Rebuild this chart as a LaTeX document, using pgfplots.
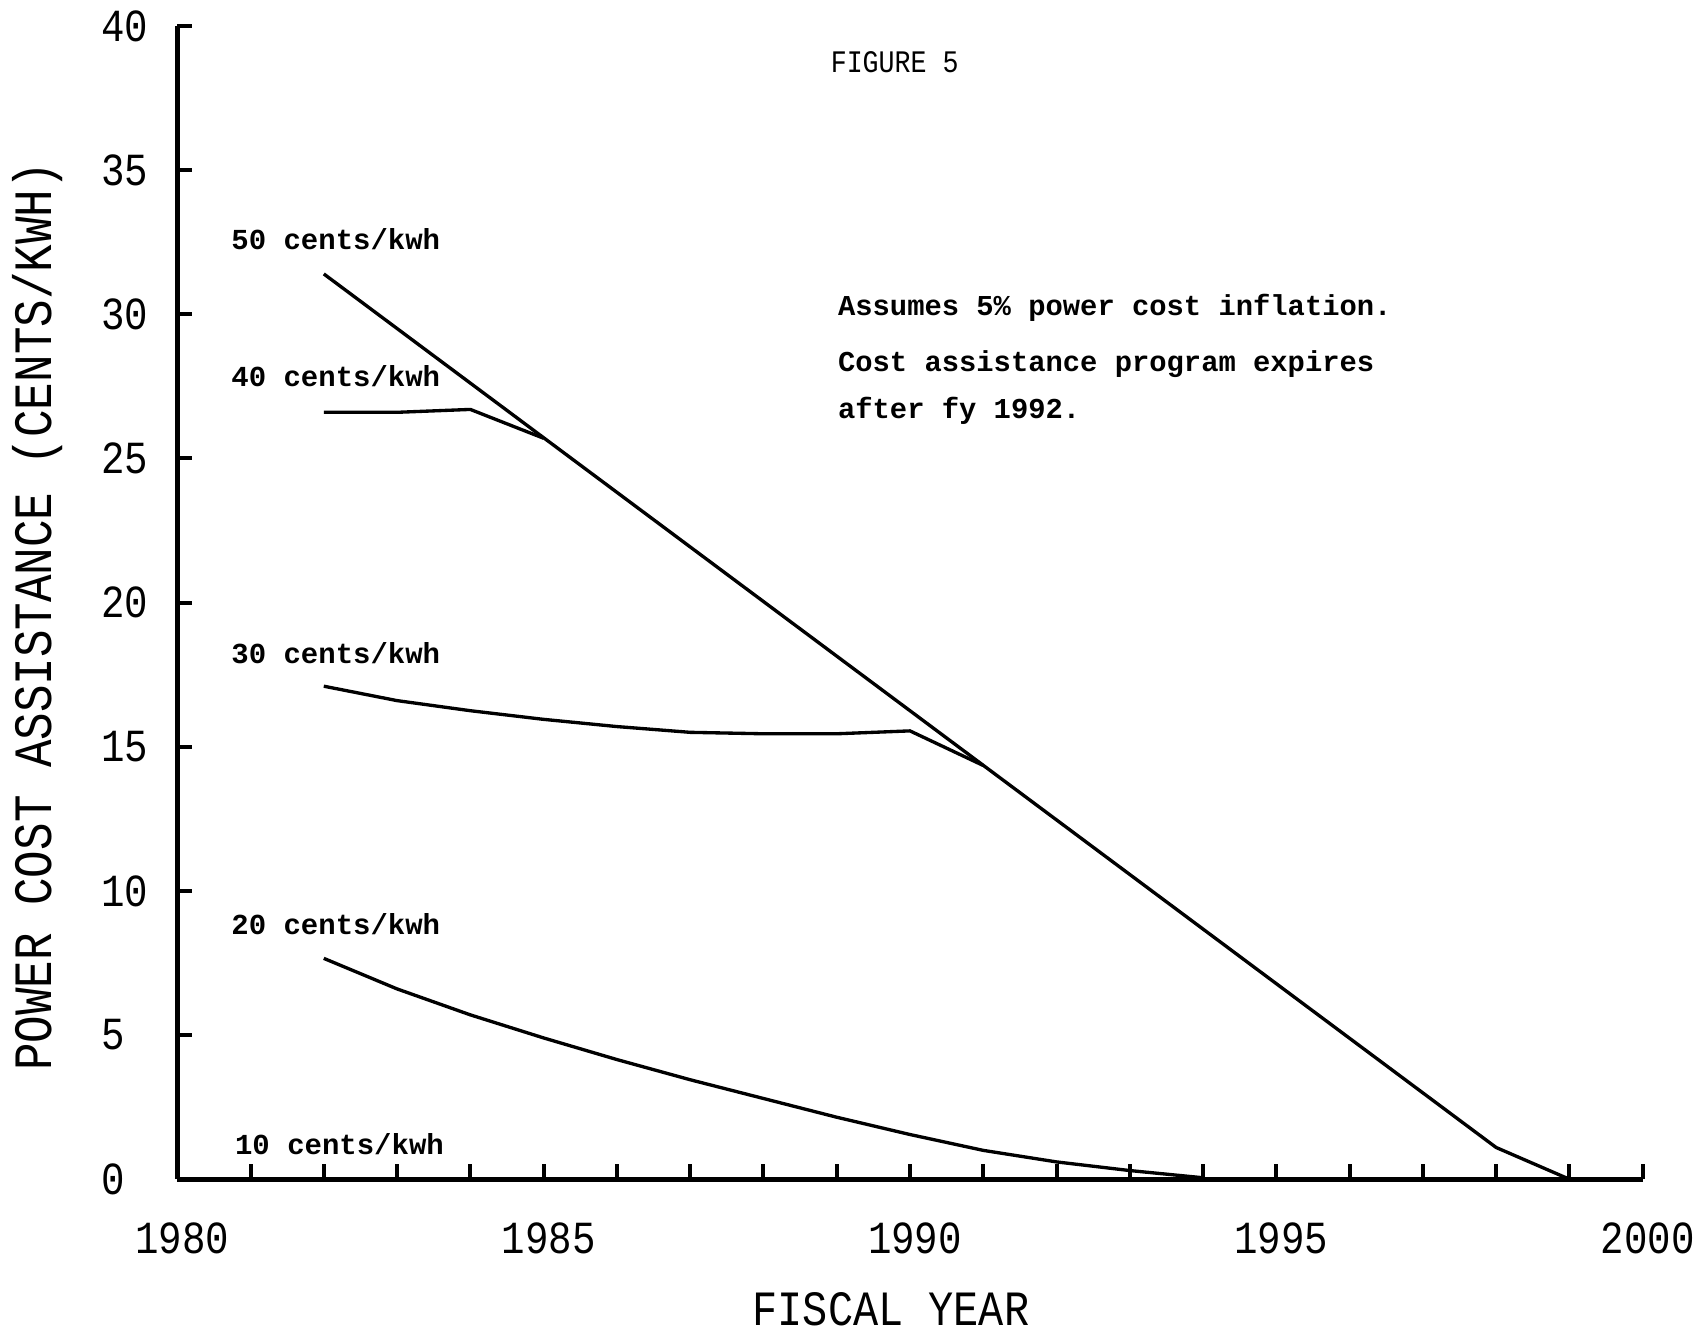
\documentclass[border=0pt]{standalone}
\usepackage{fontspec}
\setmainfont{Liberation Mono}
\newfontfamily\tickfont[FakeStretch=0.85]{Liberation Mono}
\newfontfamily\annfont{Liberation Mono}
\usepackage{pgfplots}
\pgfplotsset{compat=1.18}
\begin{document}
\begin{tikzpicture}
\path[use as bounding box] (-53.2pt,-45.4pt) rectangle (458.8pt,353.9pt);
\begin{axis}[
  at={(0,0)}, anchor=south west, scale only axis,
  width=439.8pt, height=346.1pt,
  xmin=1980, xmax=2000, ymin=0, ymax=40,
  axis lines=left,
  axis line style={-, line width=1.4pt},
  xtick={1980,1981,...,2000},
  xticklabels={1980,,,,,1985,,,,,1990,,,,,1995,,,,,2000},
  ytick={0,5,...,40},
  tick align=inside,
  major tick length=4.5pt,
  tick style={line width=1.2pt, black},
  /pgf/number format/assume math mode=true,
  /pgf/number format/1000 sep={},
  xticklabel style={font=\tickfont\fontsize{13.8}{13.8}\selectfont, inner sep=0pt, anchor=north, yshift=-13pt, xshift=1.5pt},
  yticklabel style={font=\tickfont\fontsize{13.8}{13.8}\selectfont, inner sep=0pt, anchor=west, xshift=-23pt},
  clip=false,
]
% 50 cents/kwh
\addplot[black, line width=1pt] coordinates {
(1982,31.4) (1998,1.1) (1999,0)
};
% 40 cents/kwh
\addplot[black, line width=1pt] coordinates {
(1982,26.6) (1983,26.6) (1984,26.7) (1985,25.7)
};
% 30 cents/kwh
\addplot[black, line width=1pt] coordinates {
(1982,17.1) (1983,16.6) (1984,16.25) (1985,15.95) (1986,15.7) (1987,15.5)
(1988,15.45) (1989,15.45) (1990,15.55) (1991,14.35)
};
% 20 cents/kwh
\addplot[black, line width=1pt] coordinates {
(1982,7.66) (1983,6.6) (1984,5.7) (1985,4.9) (1986,4.15) (1987,3.45)
(1988,2.8) (1989,2.15) (1990,1.55) (1991,1.0) (1992,0.6) (1993,0.3) (1994,0.05)
};
% 10 cents/kwh
\addplot[black, line width=1pt] coordinates {
(1982,0) (1990,0) (1999,0)
};

\node[anchor=west, inner sep=0pt, font=\annfont\bfseries\fontsize{8.7}{8.7}\selectfont] at (axis cs:1980.73,32.6) {50 cents/kwh};
\node[anchor=west, inner sep=0pt, font=\annfont\bfseries\fontsize{8.7}{8.7}\selectfont] at (axis cs:1980.73,27.85) {40 cents/kwh};
\node[anchor=west, inner sep=0pt, font=\annfont\bfseries\fontsize{8.7}{8.7}\selectfont] at (axis cs:1980.73,18.26) {30 cents/kwh};
\node[anchor=west, inner sep=0pt, font=\annfont\bfseries\fontsize{8.7}{8.7}\selectfont] at (axis cs:1980.73,8.83) {20 cents/kwh};
\node[anchor=west, inner sep=0pt, font=\annfont\bfseries\fontsize{8.7}{8.7}\selectfont] at (axis cs:1980.78,1.21) {10 cents/kwh};

\node[anchor=west, inner sep=0pt, font=\tickfont\fontsize{9.4}{9.4}\selectfont] at (axis cs:1988.91,38.75) {FIGURE 5};
\node[anchor=west, inner sep=0pt, font=\annfont\bfseries\fontsize{8.65}{8.65}\selectfont] at (axis cs:1989.01,30.23) {Assumes 5\% power cost inflation.};
\node[anchor=west, inner sep=0pt, font=\annfont\bfseries\fontsize{8.65}{8.65}\selectfont] at (axis cs:1989.01,28.26) {Cost assistance program expires};
\node[anchor=west, inner sep=0pt, font=\annfont\bfseries\fontsize{8.65}{8.65}\selectfont] at (axis cs:1989.01,26.64) {after fy 1992.};

\node[rotate=90, anchor=center, inner sep=0pt, font=\tickfont\fontsize{16.2}{16.2}\selectfont] at ([xshift=-41.8pt]rel axis cs:0,0.488) {POWER COST ASSISTANCE (CENTS/KWH)};
\node[anchor=center, inner sep=0pt, font=\tickfont\fontsize{14.8}{14.8}\selectfont] at ([yshift=-38.9pt]rel axis cs:0.487,0) {FISCAL YEAR};
\end{axis}
\end{tikzpicture}
\end{document}
